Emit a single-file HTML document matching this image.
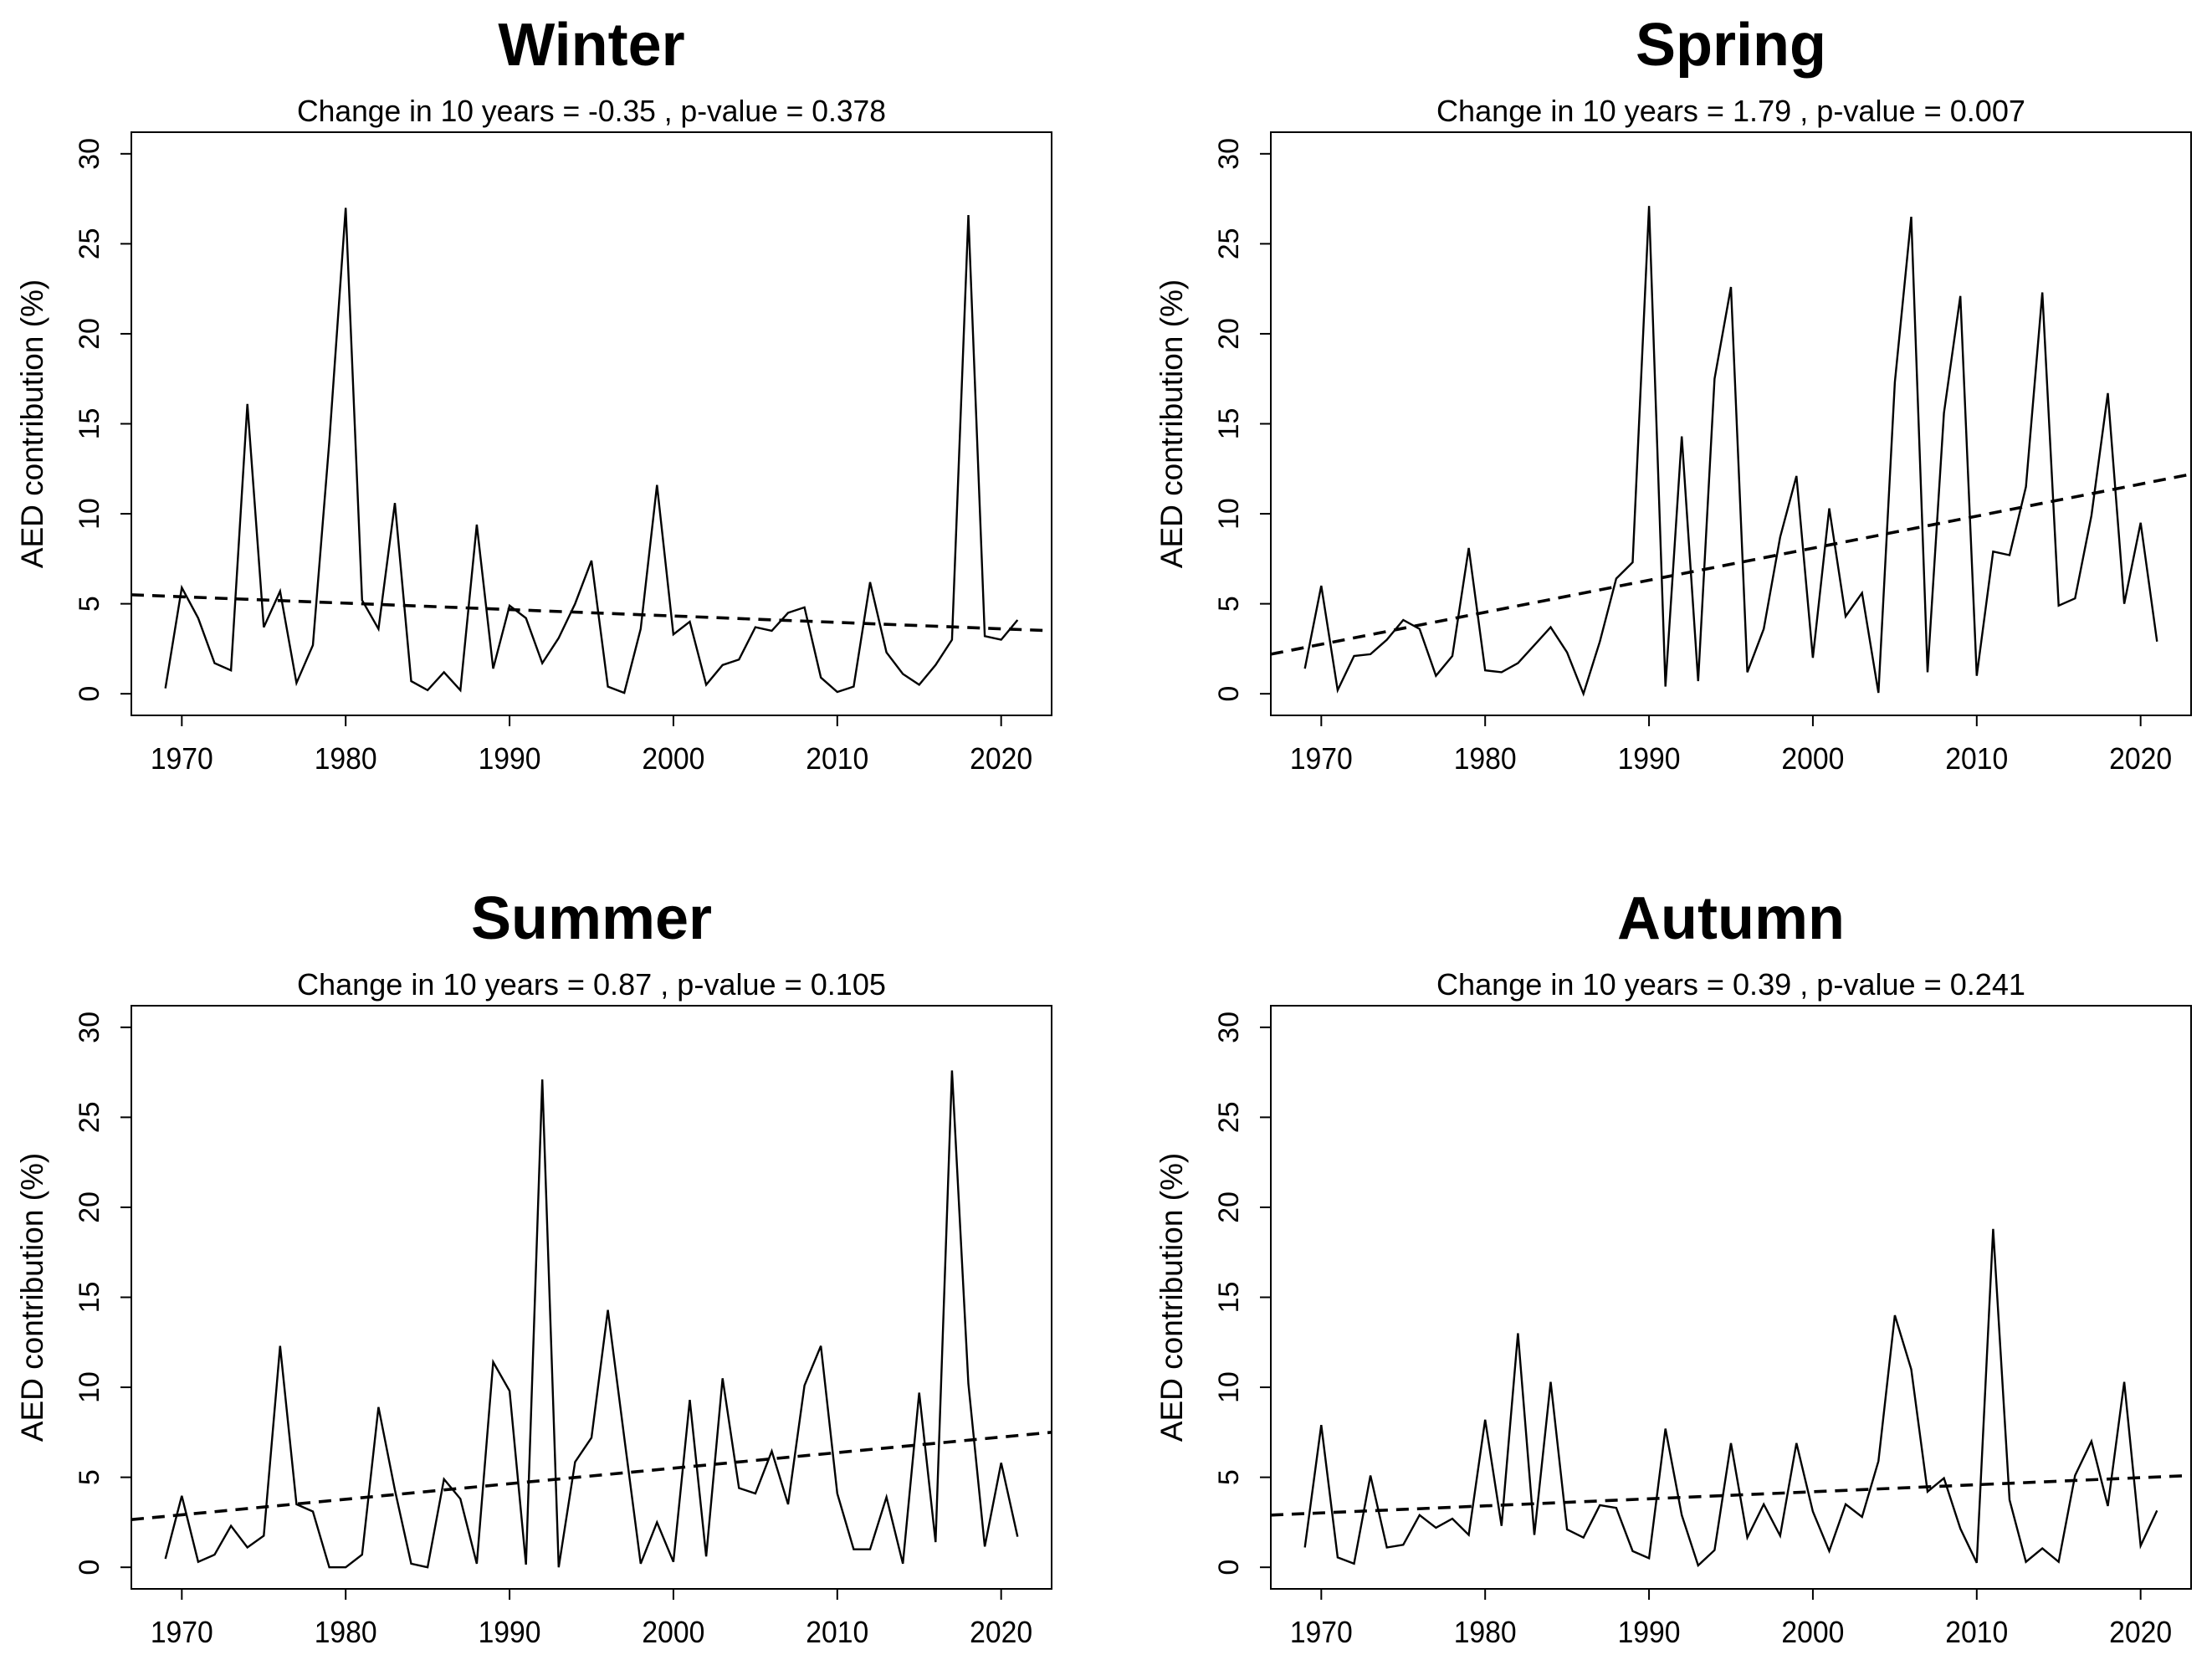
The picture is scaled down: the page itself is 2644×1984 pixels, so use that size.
<!DOCTYPE html>
<html><head><meta charset="utf-8"><style>
html,body{margin:0;padding:0;background:#fff}
svg{display:block}
text{font-family:"Liberation Sans",Arial,sans-serif;fill:#000}
</style></head><body>
<svg id="fig" width="2644" height="1984" viewBox="0 0 2644 1984" xmlns="http://www.w3.org/2000/svg"></svg>
<script>
const years = [];
for (let y = 1969; y <= 2021; y++) years.push(y);
const panelTitles = ["Winter","Spring","Summer","Autumn"];
const panelSubtitles = [
 "Change in 10 years = -0.35 , p-value = 0.378",
 "Change in 10 years = 1.79 , p-value = 0.007",
 "Change in 10 years = 0.87 , p-value = 0.105",
 "Change in 10 years = 0.39 , p-value = 0.241"];
const winterValues = [0.3,5.9,4.2,1.7,1.3,16.1,3.7,5.7,0.6,2.7,14,27.0,5.2,3.6,10.6,0.7,0.2,1.2,0.2,9.4,1.4,4.9,4.2,1.7,3.1,5.0,7.4,0.4,0.05,3.6,11.6,3.3,4.0,0.5,1.6,1.9,3.7,3.5,4.5,4.8,0.9,0.1,0.4,6.2,2.3,1.1,0.5,1.6,3.0,26.6,3.2,3.0,4.1];
const springValues = [1.4,6.0,0.2,2.1,2.2,3.0,4.1,3.6,1.0,2.1,8.1,1.3,1.2,1.7,2.7,3.7,2.3,0.0,2.9,6.4,7.3,27.1,0.4,14.3,0.7,17.5,22.6,1.2,3.6,8.7,12.1,2.0,10.3,4.3,5.6,0.05,17.3,26.5,1.2,15.6,22.1,1.0,7.9,7.7,11.5,22.3,4.9,5.3,9.9,16.7,5.0,9.5,2.9];
const summerValues = [0.47,3.97,0.3,0.7,2.3,1.1,1.75,12.3,3.5,3.1,0,0,0.7,8.9,4.3,0.2,0,4.9,3.8,0.2,11.4,9.8,0.15,27.1,0,5.85,7.2,14.3,7.2,0.2,2.5,0.3,9.3,0.6,10.5,4.4,4.1,6.45,3.5,10.1,12.3,4.1,1.0,1.0,3.9,0.2,9.7,1.4,27.6,10.2,1.15,5.8,1.7];
const autumnValues = [1.1,7.9,0.55,0.2,5.1,1.1,1.25,2.9,2.2,2.7,1.8,8.2,2.3,13.0,1.8,10.3,2.1,1.65,3.45,3.3,0.9,0.5,7.7,2.9,0.1,0.95,6.9,1.65,3.5,1.75,6.9,3.1,0.9,3.5,2.8,5.9,14.0,11.0,4.2,4.95,2.15,0.25,18.8,3.75,0.3,1.05,0.3,5.1,7.0,3.4,10.3,1.2,3.15];
// trend line value at 1967 and at 2023
const trendStart = [5.5,2.2,2.65,2.9];
const trendEnd = [3.5,12.2,7.5,5.1];
const xTicks = [1970,1980,1990,2000,2010,2020];
const yTicks = [0,5,10,15,20,25,30];

const NS = "http://www.w3.org/2000/svg";
const svg = document.getElementById('fig');
function mk(tag, attrs, parent){const e=document.createElementNS(NS,tag);for(const k in attrs)e.setAttribute(k,attrs[k]);(parent||svg).appendChild(e);return e;}
const allValues=[winterValues,springValues,summerValues,autumnValues];
const boxes=[[157,158],[1519,158],[157,1202],[1519,1202]];
const W=1100,H=697;
const xmin=1966.92,xmax=2023.08,ymin=-1.2,ymax=31.2;

boxes.forEach((b,i)=>{
  const [L,T]=b;
  const g=mk('g',{});
  
  
  const sx=v=>L+(v-xmin)/(xmax-xmin)*W;
  const sy=v=>T+H-(v-ymin)/(ymax-ymin)*H;
  const cx=L+W/2;
  const t=mk('text',{x:cx,y:T-80,'text-anchor':'middle','font-size':72,'font-weight':'bold'},g);
  t.textContent=panelTitles[i];
  
  
  const st=mk('text',{x:cx,y:T-13,'text-anchor':'middle','font-size':36,textLength:704,lengthAdjust:'spacingAndGlyphs'},g);
  st.textContent=panelSubtitles[i];
  
  
  const box=mk('rect',{x:L,y:T,width:W,height:H,fill:'none',stroke:'#000','stroke-width':2},g);
  
  
  const xa=mk('g',{},g);
  
  
  mk('line',{x1:sx(xTicks[0]),x2:sx(xTicks[xTicks.length-1]),y1:T+H,y2:T+H,stroke:'#000','stroke-width':2},xa);
  xTicks.forEach(v=>{
    mk('line',{x1:sx(v),x2:sx(v),y1:T+H,y2:T+H+13,stroke:'#000','stroke-width':2},xa);
    const tl=mk('text',{x:sx(v),y:T+H+64,'text-anchor':'middle','font-size':36,textLength:75,lengthAdjust:'spacingAndGlyphs'},xa);
    tl.textContent=v;
    
    
  });
  const ya=mk('g',{},g);
  
  
  mk('line',{x1:L,x2:L,y1:sy(0),y2:sy(30),stroke:'#000','stroke-width':2},ya);
  yTicks.forEach(v=>{
    mk('line',{x1:L,x2:L-13,y1:sy(v),y2:sy(v),stroke:'#000','stroke-width':2},ya);
    const tx=L-39;
    const tl=mk('text',{x:tx,y:sy(v),'text-anchor':'middle','font-size':34,transform:`rotate(-90 ${tx} ${sy(v)})`},ya);
    tl.textContent=v;
    
    
  });
  const yx=L-106, yy=T+H/2;
  const yt=mk('text',{x:yx,y:yy,'text-anchor':'middle','font-size':37,transform:`rotate(-90 ${yx} ${yy})`},g);
  yt.textContent='AED contribution (%)';
  
  
  const vals=allValues[i];
  const pts=years.map((y,k)=>sx(y).toFixed(1)+','+sy(vals[k]).toFixed(1)).join(' ');
  const pl=mk('polyline',{points:pts,fill:'none',stroke:'#000','stroke-width':2.4,'stroke-linejoin':'miter'},g);
  
  
  const tr=mk('line',{x1:sx(xmin),y1:sy(trendStart[i]),x2:sx(xmax),y2:sy(trendEnd[i]),stroke:'#000','stroke-width':3.6,'stroke-dasharray':'15 10'},g);
  
  
});
</script>
</body></html>
